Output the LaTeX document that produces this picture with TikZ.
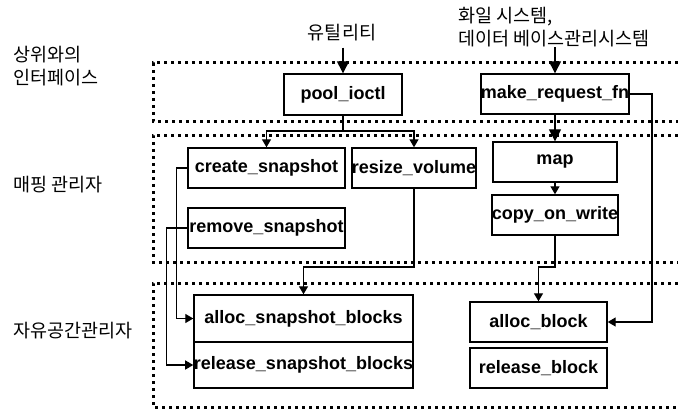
\documentclass[tikz,border=0pt]{standalone}
\usepackage{fontspec}
\setmainfont{Liberation Sans}
\newfontfamily\krfont{Noto Sans CJK KR}
\usetikzlibrary{arrows.meta,calc}
\begin{document}
\begin{tikzpicture}[x=1pt,y=-1pt,
  box/.style={draw,line width=1.4pt,fill=white,inner sep=0pt,font=\fontsize{18}{20}\selectfont\bfseries},
  lay/.style={line width=3pt,dash pattern=on 3pt off 4pt},
  conn/.style={line width=1.3pt},
  arr/.style={conn,-{Triangle[length=8pt,width=9pt]}},
  bigarr/.style={conn,-{Triangle[length=12pt,width=12pt]}},
  kr/.style={font=\krfont\fontsize{18.5}{23}\selectfont,inner sep=0pt,align=left}]
\useasboundingbox (0,0) rectangle (678,412);

% layer regions (open on the right)
\draw[lay] (678,63) -- (153,63) -- (153,121) -- (678,121);
\draw[lay] (678,135) -- (153,135) -- (153,262) -- (678,262);
\draw[lay] (678,283) -- (153,283) -- (153,407) -- (678,407);

% layer labels
\node[kr,anchor=west] (l1) at (13,66.5) {상위와의\\인터페이스};
\node[kr,anchor=west] (l2) at (13,185) {매핑 관리자};
\node[kr,anchor=west] (l3) at (13,331) {자유공간관리자};

% external labels
\node[kr] (util) at (342,33) {유틸리티};
\node[kr,anchor=west] (fs) at (458,27) {화일 시스템,\\데이터 베이스관리시스템};

% boxes
\node[box,minimum width=118pt,minimum height=41pt] (pool) at (343,94.5) {pool\_ioctl};
\node[box,minimum width=148pt,minimum height=40pt] (mrf) at (555,94) {make\_request\_fn};
\node[box,minimum width=157pt,minimum height=40pt] (cs) at (266.5,168) {create\_snapshot};
\node[box,minimum width=124pt,minimum height=40pt] (rv) at (414,168) {resize\_volume};
\node[box,minimum width=157pt,minimum height=40pt] (rs) at (266.5,228) {remove\_snapshot};
\node[box,minimum width=124pt,minimum height=40pt] (map) at (555,162) {map};
\node[box,minimum width=124pt,minimum height=40pt] (cow) at (555,215) {copy\_on\_write};
\node[box,minimum width=219pt,minimum height=47pt] (asb) at (303.5,318.5) {alloc\_snapshot\_blocks};
\node[box,minimum width=219pt,minimum height=46pt] (rsb) at (303.5,365) {release\_snapshot\_blocks};
\node[box,minimum width=137pt,minimum height=40pt] (ab) at (538.5,322) {alloc\_block};
\node[box,minimum width=137pt,minimum height=40pt] (rb) at (538.5,368) {release\_block};

% junction coordinates
\coordinate (j1) at (343,131);
\coordinate (r1) at (652,94);
\coordinate (c1) at (555,267);
\coordinate (c2) at (414,267);

% connectors
\draw[bigarr] (util.south -| pool.north) ++(0,6) -- (pool.north);
\draw[bigarr] (fs.south -| mrf.north) -- (mrf.north);
\draw[conn] (pool.south) -- (j1);
\draw[arr] (j1) -| (cs.north);
\draw[arr] (j1) -| (rv.north);
\draw[bigarr] (mrf.south) -- (map.north);
\draw[arr] (map.south) -- (cow.north);
\draw[arr] (mrf.east) -- (r1) |- (ab.east);
\draw[arr] (cow.south) -- (c1) -| (ab.north);
\draw[arr] (rv.south) -- (c2) -| (asb.north);
\draw[arr] (cs.west) -- ++(-11,0) |- (asb.west);
\draw[arr] (rs.west) -- ++(-21,0) |- (rsb.west);
\end{tikzpicture}
\end{document}
